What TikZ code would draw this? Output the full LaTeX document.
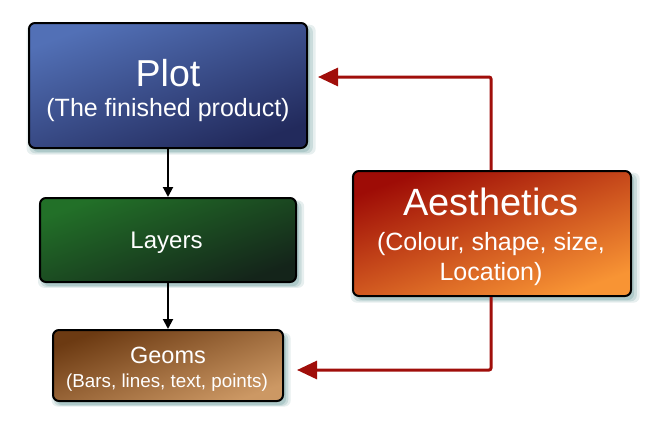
\documentclass[tikz,border=0pt]{standalone}
\usepackage{fontspec}
\setmainfont{Liberation Sans}
\usetikzlibrary{arrows.meta,shadows}
\definecolor{plotA}{RGB}{82,112,182}
\definecolor{plotB}{RGB}{34,42,92}
\definecolor{layA}{RGB}{34,112,40}
\definecolor{layB}{RGB}{20,36,26}
\definecolor{geoA}{RGB}{108,58,18}
\definecolor{geoB}{RGB}{204,152,100}
\definecolor{aesA}{RGB}{158,12,6}
\definecolor{aesB}{RGB}{248,148,52}
\definecolor{linkred}{RGB}{160,14,10}
\definecolor{shadowc}{RGB}{120,165,165}
\tikzset{
  boxbase/.style={draw=black, line width=2pt, rounded corners=6pt,
    inner sep=0pt,
    general shadow={draw=none, fill=shadowc, fill opacity=0.18, shadow xshift=3pt, shadow yshift=-4pt, shadow scale=1.04},
    general shadow={draw=none, fill=shadowc, fill opacity=0.25, shadow xshift=3pt, shadow yshift=-4pt, shadow scale=1.02},
    general shadow={draw=none, fill=shadowc, fill opacity=0.35, shadow xshift=3pt, shadow yshift=-4pt}},
  boxtext/.style={text=white, anchor=base, inner sep=0pt},
  blackarr/.style={draw=black, line width=2pt, -{Triangle[length=10pt,width=10pt]}},
  redarr/.style={draw=linkred, line width=3pt, -{Triangle[length=20pt,width=18pt]}},
}
\begin{document}
\begin{tikzpicture}[x=1pt,y=-1pt]
\useasboundingbox (0,0) rectangle (657,434);
% boxes
\node[boxbase, minimum width=278pt, minimum height=125pt,
  top color=plotA, bottom color=plotB, shading angle=20] (plot) at (168,85.5) {};
\node[boxbase, minimum width=256pt, minimum height=84pt,
  top color=layA, bottom color=layB, shading angle=20] (layers) at (168,240) {};
\node[boxbase, minimum width=230pt, minimum height=71pt,
  top color=geoA, bottom color=geoB, shading angle=20] (geoms) at (168,365.5) {};
\node[boxbase, minimum width=278pt, minimum height=125pt,
  top color=aesA, bottom color=aesB, shading angle=20] (aes) at (492,233.5) {};
% texts
\node[boxtext, font=\fontsize{37.5}{40}\selectfont] (plotT) at (168,86) {Plot};
\node[boxtext, font=\fontsize{25}{28}\selectfont] (plotS) at (168,116.5) {(The finished product)};
\node[boxtext, font=\fontsize{24}{28}\selectfont] (layT) at (166.5,248) {Layers};
\node[boxtext, font=\fontsize{23.5}{28}\selectfont] (geoT) at (168,363) {Geoms};
\node[boxtext, font=\fontsize{18.8}{22}\selectfont] (geoS) at (167,387.5) {(Bars, lines, text, points)};
\node[boxtext, font=\fontsize{38}{40}\selectfont] (aesT) at (491,215) {Aesthetics};
\node[boxtext, font=\fontsize{25}{28}\selectfont] (aesS1) at (491,250) {(Colour, shape, size,};
\node[boxtext, font=\fontsize{25}{28}\selectfont] (aesS2) at (491,280) {Location)};
% connectors
\draw[blackarr] (plot.south) -- (layers.north);
\draw[blackarr] (layers.south) -- (geoms.north);
\coordinate (tipA) at (318,77);
\coordinate (tipB) at (297,370);
\draw[redarr, rounded corners=2pt] (aes.north -| 491,0) |- (tipA);
\draw[redarr, rounded corners=2pt] (aes.south -| 491,0) |- (tipB);
\end{tikzpicture}
\end{document}
